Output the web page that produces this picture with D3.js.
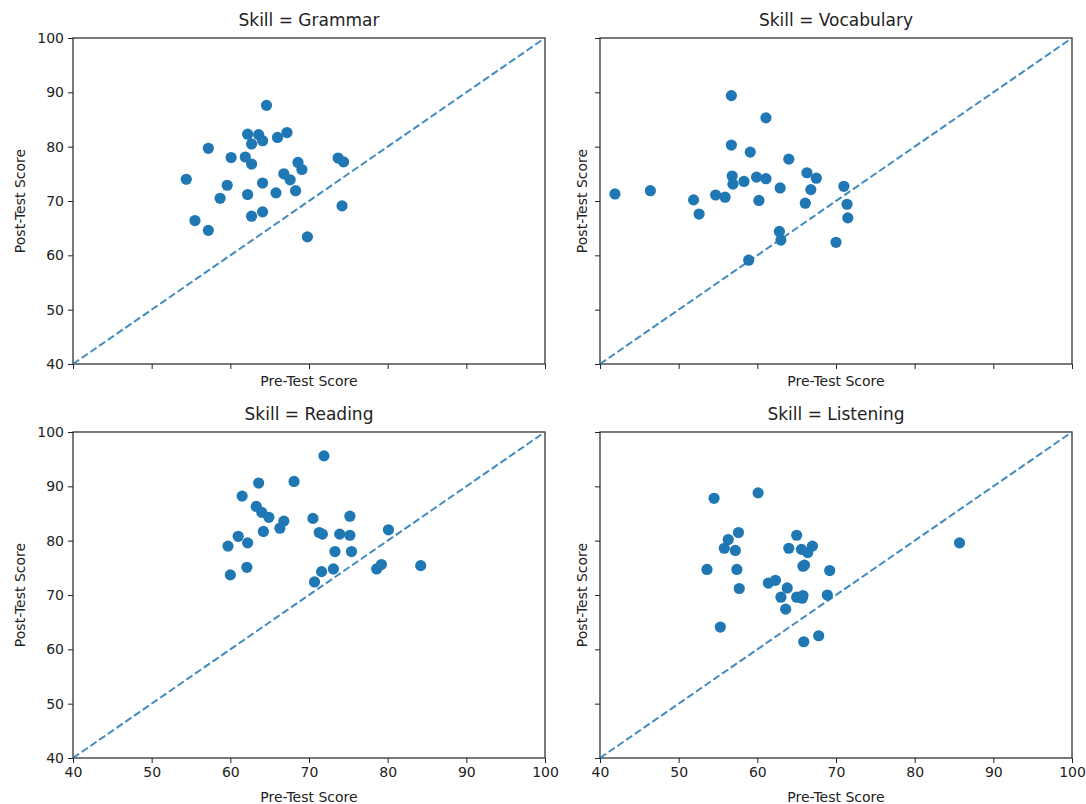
<!DOCTYPE html>
<meta charset="utf-8">
<style>
    body { margin: 0; background: #fff; }
    text { font-family: "DejaVu Sans", sans-serif; fill: #222; }
</style>
<body>
<script src="https://cdn.jsdelivr.net/npm/d3@7"></script>
<script>

    // data
    var skills = ["Grammar", "Vocabulary", "Reading", "Listening"];

    var grammarPre  = [64.6, 62.2, 63.6, 64.1, 62.7, 66.0, 67.2, 57.2, 60.1, 61.9, 62.7, 68.6, 69.1, 73.7, 74.4,
                       54.4, 66.8, 67.6, 64.1, 59.6, 62.2, 65.8, 68.3, 58.7, 74.2, 55.5, 57.2, 62.7, 64.1, 69.8];
    var grammarPost = [87.6, 82.3, 82.2, 81.1, 80.5, 81.7, 82.6, 79.7, 78.0, 78.1, 76.8, 77.1, 75.8, 77.9, 77.2,
                       74.0, 75.0, 73.9, 73.3, 72.9, 71.2, 71.5, 71.9, 70.5, 69.1, 66.4, 64.6, 67.2, 68.0, 63.4];

    var vocabularyPre  = [56.7, 61.1, 56.7, 59.1, 64.0, 56.8, 56.9, 58.3, 59.9, 61.1, 62.9, 66.3, 67.5, 66.8, 71.0,
                          71.4, 71.5, 41.9, 46.4, 51.9, 52.6, 54.7, 55.9, 60.2, 66.1, 62.8, 63.0, 70.0, 58.9];
    var vocabularyPost = [89.4, 85.3, 80.3, 79.0, 77.7, 74.6, 73.1, 73.6, 74.4, 74.1, 72.4, 75.2, 74.2, 72.1, 72.7,
                          69.4, 66.9, 71.3, 71.9, 70.2, 67.6, 71.1, 70.7, 70.1, 69.6, 64.4, 62.8, 62.4, 59.1];

    var readingPre  = [71.9, 63.6, 68.1, 61.5, 63.3, 64.0, 64.9, 66.8, 66.3, 64.2, 70.5, 71.3, 71.7, 73.9, 75.2,
                       75.2, 73.3, 75.4, 61.0, 62.2, 59.7, 80.1, 62.1, 60.0, 71.6, 73.1, 70.7, 78.6, 79.2, 84.2];
    var readingPost = [95.6, 90.6, 90.9, 88.2, 86.3, 85.2, 84.3, 83.6, 82.3, 81.7, 84.1, 81.5, 81.2, 81.2, 84.5,
                       81.0, 78.0, 78.0, 80.8, 79.6, 79.0, 82.0, 75.1, 73.7, 74.3, 74.8, 72.4, 74.8, 75.6, 75.4];

    var listeningPre  = [54.5, 60.1, 57.6, 56.3, 55.8, 57.2, 53.6, 57.4, 57.7, 65.0, 64.0, 65.6, 67.0, 66.4, 65.8,
                         66.0, 69.2, 61.4, 62.3, 63.8, 63.0, 65.0, 65.7, 65.8, 63.6, 68.9, 55.3, 67.8, 65.9, 85.7];
    var listeningPost = [87.8, 88.8, 81.5, 80.2, 78.6, 78.2, 74.7, 74.7, 71.2, 81.0, 78.6, 78.4, 79.0, 77.8, 75.3,
                         75.5, 74.5, 72.2, 72.7, 71.3, 69.6, 69.6, 69.4, 69.9, 67.4, 70.0, 64.1, 62.5, 61.4, 79.6];

    var preBySkill  = [grammarPre, vocabularyPre, readingPre, listeningPre];
    var postBySkill = [grammarPost, vocabularyPost, readingPost, listeningPost];

    var ticks = [40, 50, 60, 70, 80, 90, 100];
    var domain = [40, 100];

    var width  = 1086,
        height = 804;

    // panel boxes: col 0/1, row 0/1
    var panelLeft = [73, 600],
        panelTop  = [38, 432],
        panelW    = 472,
        panelH    = 326;

    var svg = d3.select("body")
                .append("svg")
                .attr("width", width)
                .attr("height", height);

    var x = d3.scaleLinear().domain(domain).range([0, panelW]);
    var y = d3.scaleLinear().domain(domain).range([panelH, 0]);

    skills.forEach(function (skill, i) {
        var col = i % 2,
            row = Math.floor(i / 2);

        var g = svg.append("g")
                   .attr("transform", "translate(" + panelLeft[col] + "," + panelTop[row] + ")");

        var pts = preBySkill[i].map(function (p, j) {
            return {pre: p, post: postBySkill[i][j]};
        });

        // axes
        var xAxis = d3.axisBottom(x).tickValues(ticks).tickSizeOuter(0).tickPadding(4).tickSize(5);
        var yAxis = d3.axisLeft(y).tickValues(ticks).tickSizeOuter(0).tickPadding(4).tickSize(5);
        if (row === 0) xAxis.tickFormat("");
        if (col === 1) yAxis.tickFormat("");

        var gx = g.append("g").attr("transform", "translate(0," + panelH + ")").call(xAxis);
        var gy = g.append("g").call(yAxis);
        [gx, gy].forEach(function (a) {
            a.select(".domain").remove();
            a.selectAll("line").attr("stroke", "#222").attr("stroke-width", 1);
            a.selectAll("text").style("font-family", "DejaVu Sans, sans-serif")
             .style("font-size", "14px").attr("fill", "#222");
        });

        // frame
        g.append("rect")
         .attr("width", panelW)
         .attr("height", panelH)
         .attr("fill", "none")
         .attr("stroke", "#222")
         .attr("stroke-width", 1.2);

        // identity line
        g.append("line")
         .attr("x1", x(40)).attr("y1", y(40))
         .attr("x2", x(100)).attr("y2", y(100))
         .attr("stroke", "#1f77b4")
         .attr("stroke-opacity", 0.85)
         .attr("stroke-width", 2)
         .attr("stroke-dasharray", "7.4,3.2");

        g.selectAll(".dot")
         .data(pts)
         .enter()
         .append("circle")
         .attr("class", "dot")
         .attr("cx", function (d) { return x(d.pre); })
         .attr("cy", function (d) { return y(d.post); })
         .attr("r", 5.6)
         .attr("fill", "#1f77b4");

        g.append("text")
         .attr("x", panelW / 2)
         .attr("y", -12)
         .attr("text-anchor", "middle")
         .style("font-size", "17px")
         .text("Skill = " + skill);

        g.append("text")
         .attr("x", panelW / 2)
         .attr("y", row === 0 ? panelH + 22 : panelH + 44)
         .attr("text-anchor", "middle")
         .style("font-size", "14px")
         .text("Pre-Test Score");

        g.append("text")
         .attr("transform", "translate(" + (col === 0 ? -48 : -13) + "," + (panelH / 2) + ") rotate(-90)")
         .attr("text-anchor", "middle")
         .style("font-size", "14px")
         .text("Post-Test Score");
    });

</script>
</body>
